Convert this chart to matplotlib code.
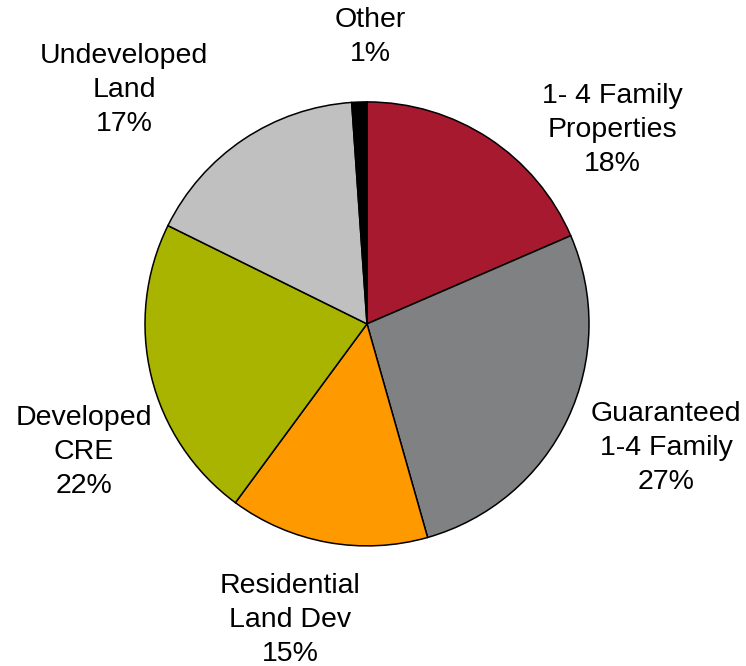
import matplotlib.pyplot as plt

# slice shares (clockwise from 12 o'clock)
categories = ["1- 4 Family\nProperties", "Guaranteed\n1-4 Family", "Residential\nLand Dev",
              "Developed\nCRE", "Undeveloped\nLand", "Other"]
shares = [18.5, 27.1, 14.5, 22.2, 16.6, 1.1]
pct_labels = ["18%", "27%", "15%", "22%", "17%", "1%"]
colors = ["#A6192E", "#808183", "#FF9900", "#A8B400", "#C0C0C0", "#000000"]

# label block centres, in pie-radius units
label_pos = [(1.104, 0.874), (1.347, -0.559), (-0.347, -1.333),
             (-1.275, -0.577), (-1.095, 1.054), (0.014, 1.293)]

plt.rcParams['font.family'] = ['Liberation Sans', 'DejaVu Sans']

fig = plt.figure(figsize=(7.46, 6.66), dpi=100)
ax = fig.add_axes([0, 0, 1, 1])
ax.pie(shares, colors=colors, startangle=90, counterclock=False,
       wedgeprops=dict(edgecolor="black", linewidth=1.1))

for cat, pct, (x, y) in zip(categories, pct_labels, label_pos):
    ax.text(x, y, f"{cat}\n{pct}", ha="center", va="center",
            fontsize=20.5, linespacing=1.4, color="black")

ax.set_xlim(-1.653, 1.707)
ax.set_ylim(-1.541, 1.459)
ax.set_aspect("equal")
ax.axis("off")

fig.savefig("out.png", dpi=100)
